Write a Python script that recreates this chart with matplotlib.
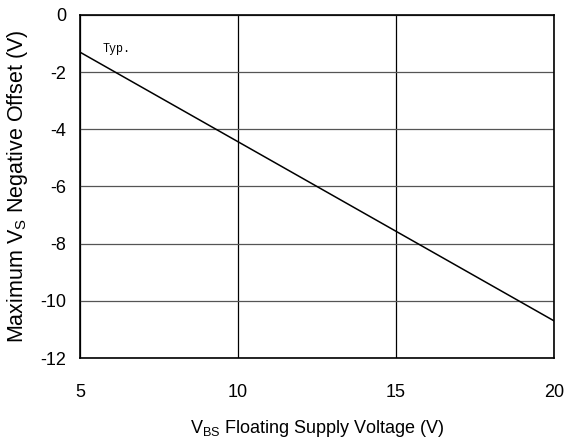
import matplotlib
matplotlib.use('Agg')
import matplotlib.pyplot as plt

# data
vbs = [5, 20]
offset = [-1.3, -10.7]
x_ticks = [5, 10, 15, 20]
y_ticks = [0, -2, -4, -6, -8, -10, -12]

plt.rcParams['font.family'] = ['Liberation Sans', 'DejaVu Sans']
plt.rcParams['mathtext.fontset'] = 'custom'
plt.rcParams['mathtext.rm'] = 'Liberation Sans'
plt.rcParams['mathtext.it'] = 'Liberation Sans'
plt.rcParams['axes.unicode_minus'] = False

fig = plt.figure(figsize=(5.66, 4.45), dpi=100)
ax = fig.add_axes([0.1413, 0.1955, 0.8375, 0.7708])

ax.plot(vbs, offset, color='black', linewidth=1.1)

ax.set_xlim(5, 20)
ax.set_ylim(-12, 0)
ax.set_xticks(x_ticks)
ax.set_yticks(y_ticks)
ax.tick_params(length=0, labelsize=13)
ax.tick_params(axis='x', pad=19)
ax.tick_params(axis='y', pad=10)

# vertical grid black, horizontal grid gray
ax.grid(axis='x', color='black', linewidth=0.9)
ax.grid(axis='y', color='#555555', linewidth=0.9)
for s in ax.spines.values():
    s.set_linewidth(1.2)

ax.set_xlabel('V$_{\\mathrm{BS}}$ Floating Supply Voltage (V)', fontsize=13, labelpad=12)
ax.set_ylabel('Maximum V$_{\\mathrm{S}}$ Negative Offset (V)', fontsize=15.5)
ax.yaxis.set_label_coords(-0.105, 0.5)

ax.text(5.7, -1.2, 'Typ.', family=['Liberation Mono', 'DejaVu Sans Mono'],
        fontsize=8.5, va='center', ha='left')

fig.savefig('out.png', dpi=100, facecolor='white')
